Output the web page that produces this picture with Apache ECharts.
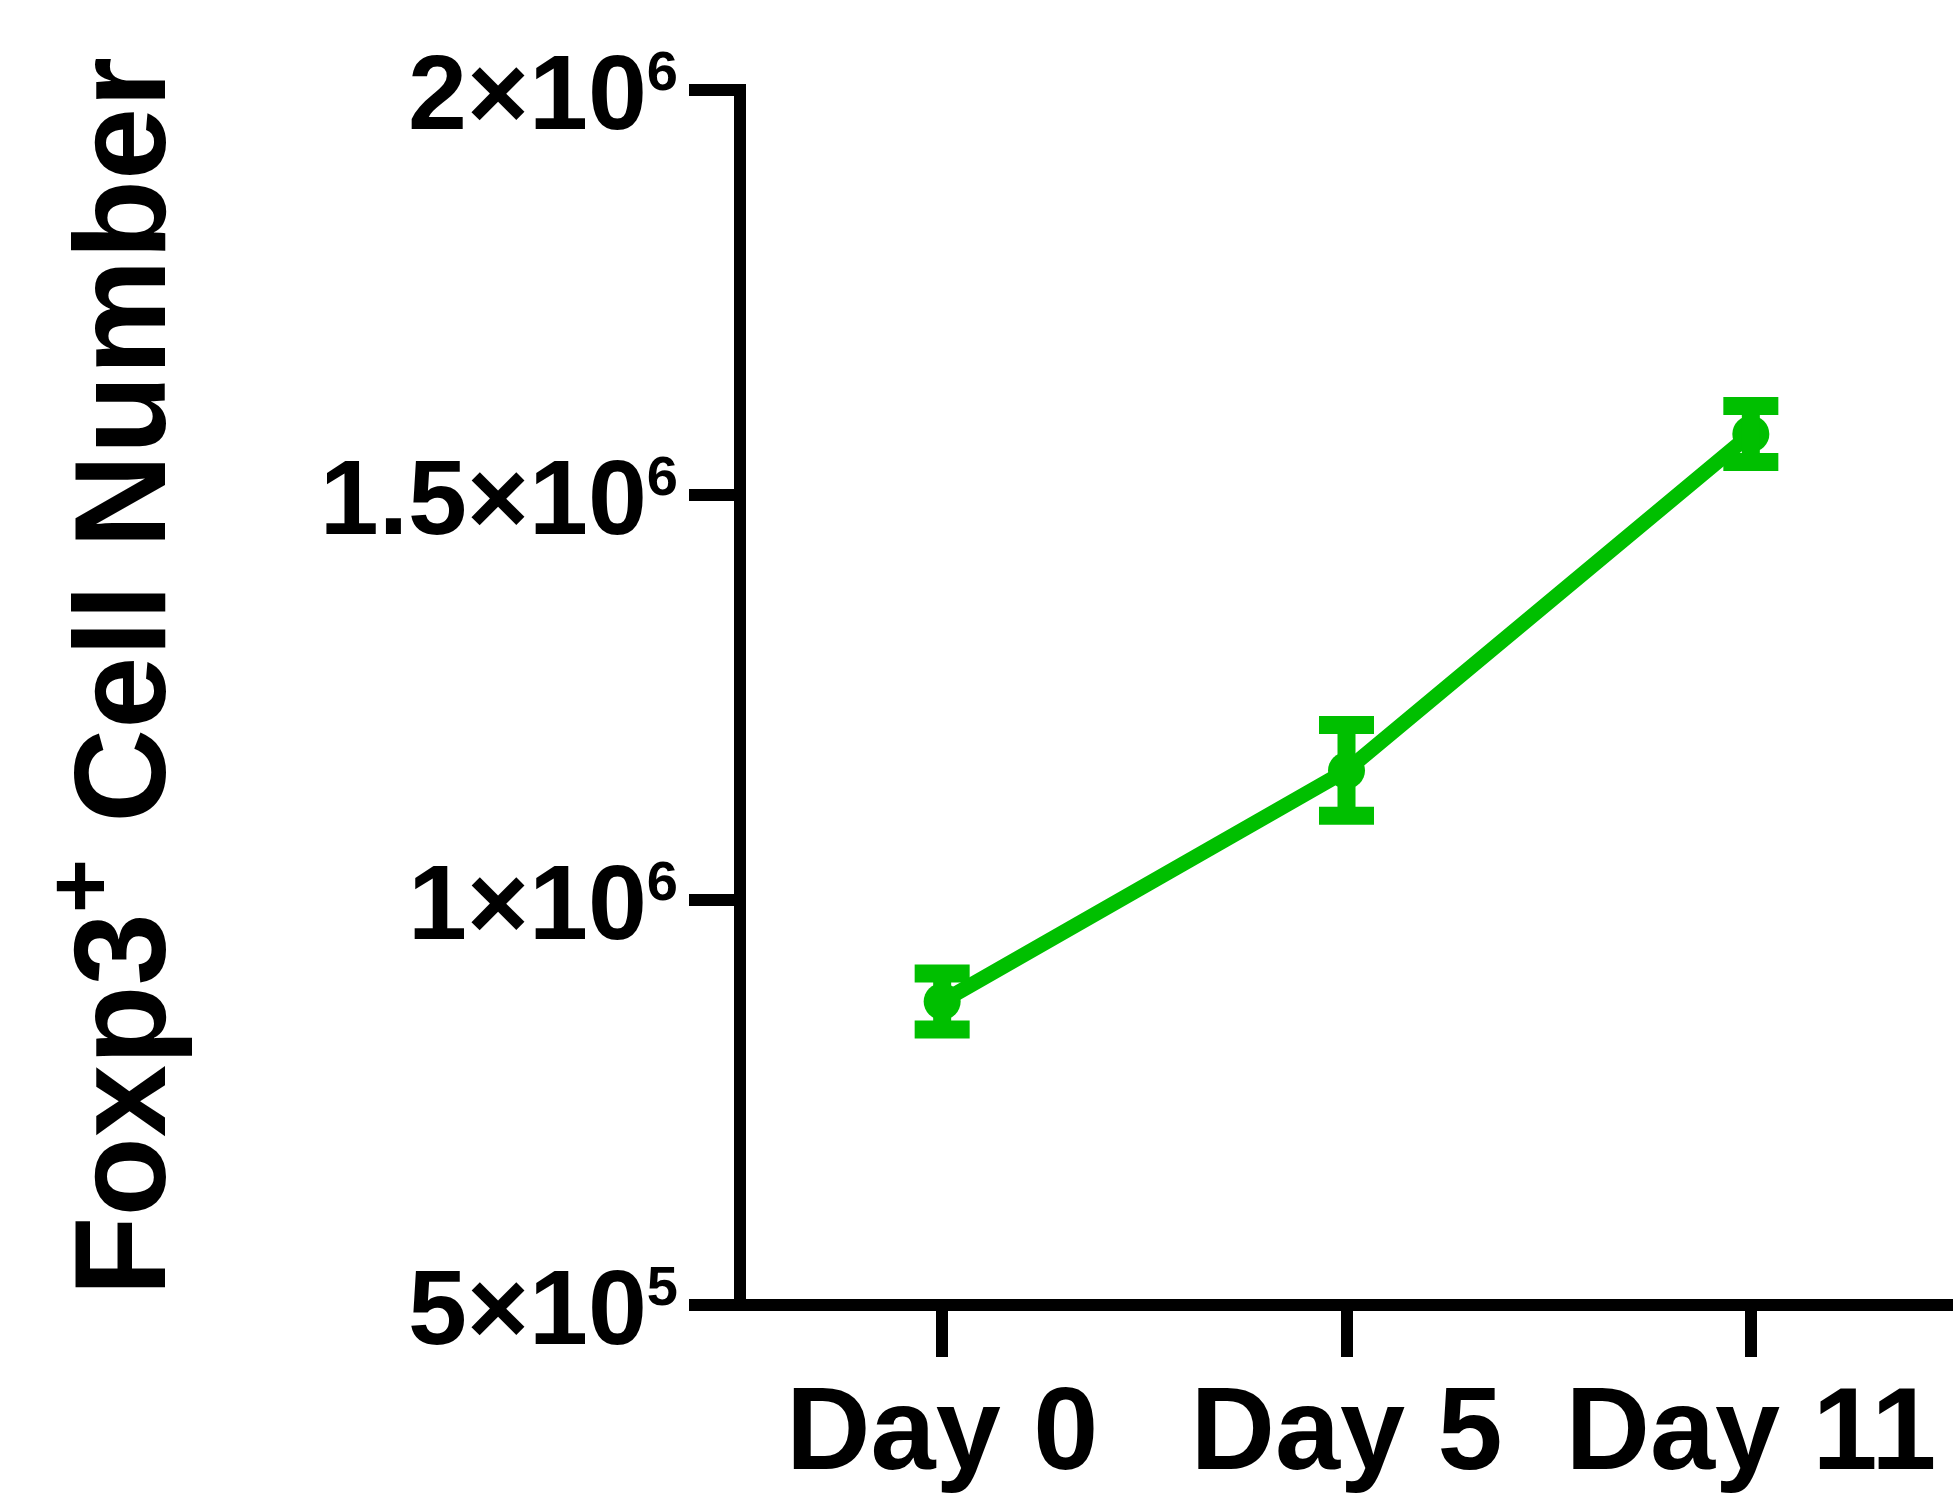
<!DOCTYPE html>
<html>
<head>
<meta charset="utf-8">
<script src="https://cdn.jsdelivr.net/npm/echarts@6/dist/echarts.min.js"></script>
<style>
  html, body { margin: 0; padding: 0; background: #fff; }
  #chart { width: 1953px; height: 1496px; }
</style>
</head>
<body>
<div id="chart"></div>
<script>
// ---- data ----
var categories = ['Day 0', 'Day 5', 'Day 11'];
var meanCells = [874700, 1159900, 1575300];
var semCells = [34500, 56000, 34600];
var yTickValues = [500000, 1000000, 1500000, 2000000];
var yTickMantissa = ['5×10', '1×10', '1.5×10', '2×10'];
var yTickExponent = ['5', '6', '6', '6'];
var yTitleMain1 = 'Foxp3';
var yTitleSup = '+';
var yTitleMain2 = ' Cell Number';

var GREEN = '#00BF00';
var FONT = '"Liberation Sans", Arial, sans-serif';

var errData = categories.map(function (c, i) {
  return [i, meanCells[i], meanCells[i] - semCells[i], meanCells[i] + semCells[i]];
});

var chart = echarts.init(document.getElementById('chart'), null, { renderer: 'canvas' });

chart.setOption({
  animation: false,
  backgroundColor: '#ffffff',
  grid: { left: 740, right: 0, top: 90, bottom: 191, containLabel: false },
  xAxis: {
    type: 'category',
    data: categories,
    boundaryGap: true,
    axisLine: { show: true, lineStyle: { color: '#000', width: 12, cap: 'square' } },
    axisTick: { show: true, alignWithLabel: true, length: 52, lineStyle: { color: '#000', width: 12 } },
    axisLabel: {
      interval: 0, margin: 73, color: '#000', fontFamily: FONT,
      fontWeight: 'bold', fontSize: 117
    },
    splitLine: { show: false }
  },
  yAxis: {
    type: 'value',
    min: 500000, max: 2000000, interval: 500000,
    axisLine: { show: true, onZero: false, lineStyle: { color: '#000', width: 12, cap: 'square' } },
    axisTick: { show: true, length: 51, lineStyle: { color: '#000', width: 12 } },
    splitLine: { show: false },
    axisLabel: {
      margin: 62,
      padding: [20, 0, 0, 0],
      formatter: function (v) {
        var i = yTickValues.indexOf(v);
        if (i < 0) return '';
        return '{m|' + yTickMantissa[i] + '}{s|' + yTickExponent[i] + '}';
      },
      rich: {
        m: { fontFamily: FONT, fontWeight: 'bold', fontSize: 106, lineHeight: 106, color: '#000' },
        s: { fontFamily: FONT, fontWeight: 'bold', fontSize: 56, lineHeight: 56, height: 56, color: '#000',
             verticalAlign: 'top' }
      }
    },
    name: '{m|' + yTitleMain1 + '}{s|' + yTitleSup + '}{m|' + yTitleMain2 + '}',
    nameLocation: 'middle',
    nameRotate: 90,
    nameGap: 546,
    nameTextStyle: {
      padding: [0, 0, 0, 42],
      rich: {
        m: { fontFamily: FONT, fontWeight: 'bold', fontSize: 130, lineHeight: 130, color: '#000' },
        s: { fontFamily: FONT, fontWeight: 'bold', fontSize: 93, lineHeight: 4, height: 43, color: '#000',
             verticalAlign: 'top' }
      }
    }
  },
  series: [
    {
      type: 'line',
      data: meanCells,
      symbol: 'circle',
      symbolSize: 37,
      lineStyle: { color: GREEN, width: 15 },
      itemStyle: { color: GREEN },
      z: 3
    },
    {
      type: 'custom',
      data: errData,
      z: 4,
      renderItem: function (params, api) {
        var x = api.value(0);
        var lo = api.coord([x, api.value(2)]);
        var hi = api.coord([x, api.value(3)]);
        var capW = 55, t = 18;
        return {
          type: 'group',
          children: [
            { type: 'rect', shape: { x: lo[0] - t / 2, y: hi[1], width: t, height: lo[1] - hi[1] }, style: { fill: GREEN } },
            { type: 'rect', shape: { x: hi[0] - capW / 2, y: hi[1] - t / 2, width: capW, height: t }, style: { fill: GREEN } },
            { type: 'rect', shape: { x: lo[0] - capW / 2, y: lo[1] - t / 2, width: capW, height: t }, style: { fill: GREEN } }
          ]
        };
      }
    }
  ]
});
</script>
</body>
</html>
